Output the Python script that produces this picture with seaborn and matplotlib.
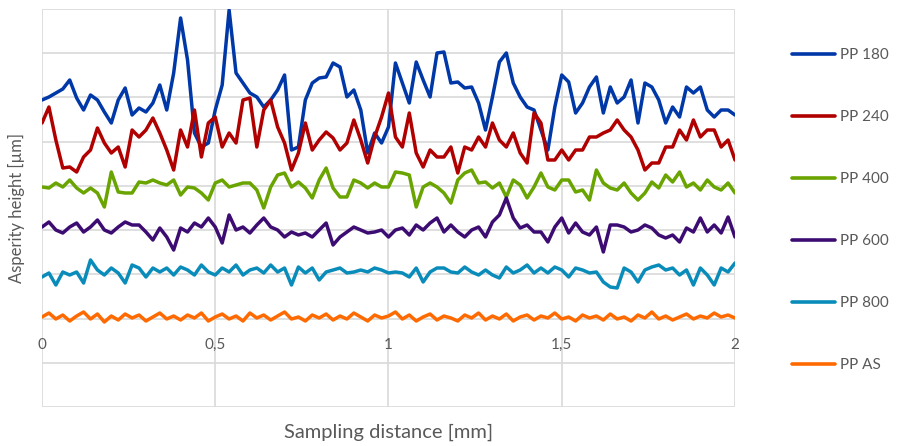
import numpy as np
import pandas as pd
import matplotlib
matplotlib.use("Agg")
import matplotlib.pyplot as plt
import seaborn as sns

# ---- data (asperity height readings, arbitrary µm units, sampled every 0.02 mm) ----
x_mm = [round(0.02 * k, 2) for k in range(101)]

pp180 = [307, 310, 314, 318, 327, 309, 297, 312, 307, 295,
         284, 307, 319, 292, 299, 295, 304, 322, 297, 334,
         389, 347, 274, 260, 264, 297, 322, 397, 334, 324,
         314, 310, 300, 307, 317, 332, 257, 260, 307, 324,
         329, 330, 344, 340, 310, 317, 297, 254, 274, 264,
         280, 344, 324, 304, 345, 327, 310, 354, 355, 324,
         325, 319, 320, 304, 277, 310, 345, 354, 324, 310,
         300, 297, 277, 257, 300, 332, 325, 294, 304, 320,
         330, 294, 320, 304, 310, 327, 284, 324, 320, 307,
         284, 300, 290, 320, 314, 320, 297, 290, 297, 297,
         292]

pp240 = [284, 300, 267, 239, 240, 235, 250, 257, 279, 264,
         254, 260, 240, 277, 270, 277, 289, 274, 257, 237,
         277, 260, 297, 250, 284, 290, 260, 274, 264, 307,
         309, 260, 297, 307, 280, 264, 237, 254, 284, 257,
         267, 275, 269, 257, 264, 287, 267, 244, 270, 290,
         314, 270, 260, 294, 254, 240, 257, 250, 250, 260,
         234, 260, 257, 270, 260, 284, 267, 260, 274, 254,
         244, 294, 284, 247, 247, 257, 247, 257, 257, 270,
         270, 274, 277, 287, 277, 270, 257, 237, 244, 244,
         260, 260, 277, 267, 287, 270, 277, 277, 260, 267,
         247]

pp400 = [220, 219, 224, 220, 227, 219, 214, 219, 214, 200,
         235, 215, 214, 214, 225, 224, 227, 224, 222, 227,
         212, 220, 219, 214, 207, 224, 227, 220, 222, 224,
         224, 217, 199, 220, 232, 234, 220, 225, 219, 209,
         227, 239, 219, 210, 210, 227, 224, 219, 224, 220,
         220, 235, 234, 232, 200, 220, 224, 220, 214, 204,
         227, 234, 237, 224, 225, 219, 224, 210, 227, 222,
         209, 220, 234, 220, 217, 227, 227, 215, 217, 207,
         237, 224, 219, 217, 224, 214, 207, 214, 225, 219,
         232, 225, 235, 220, 224, 217, 227, 220, 217, 224,
         214]

pp600 = [180, 185, 177, 174, 180, 184, 175, 180, 187, 177,
         174, 180, 185, 182, 182, 175, 167, 179, 170, 157,
         179, 175, 184, 180, 189, 180, 164, 192, 177, 180,
         174, 182, 189, 180, 177, 170, 175, 172, 174, 170,
         177, 184, 162, 170, 175, 180, 177, 174, 175, 177,
         170, 177, 179, 172, 182, 177, 184, 189, 175, 182,
         175, 170, 177, 180, 170, 185, 192, 209, 189, 179,
         182, 175, 175, 165, 180, 189, 174, 184, 175, 172,
         180, 155, 182, 182, 180, 175, 177, 182, 179, 172,
         169, 172, 165, 179, 175, 189, 175, 182, 174, 190,
         170]

pp800 = [130, 134, 122, 135, 132, 135, 124, 147, 137, 132,
         139, 134, 124, 142, 139, 130, 139, 135, 139, 132,
         140, 137, 132, 142, 135, 132, 139, 135, 142, 132,
         137, 139, 134, 142, 135, 139, 122, 140, 134, 139,
         127, 135, 137, 139, 134, 135, 137, 135, 139, 137,
         134, 135, 134, 130, 139, 125, 135, 139, 139, 135,
         134, 140, 135, 132, 137, 132, 129, 140, 134, 137,
         142, 134, 139, 134, 140, 137, 130, 139, 137, 134,
         135, 125, 120, 119, 139, 135, 125, 137, 140, 142,
         137, 139, 132, 137, 122, 139, 132, 122, 139, 135,
         144]

ppas = [90, 94, 88, 92, 86, 91, 95, 88, 93, 85,
        91, 87, 93, 89, 92, 86, 90, 94, 88, 91,
        87, 92, 89, 94, 86, 90, 93, 88, 91, 86,
        94, 89, 92, 87, 91, 95, 88, 90, 86, 92,
        89, 93, 87, 91, 88, 94, 90, 86, 92, 89,
        91, 95, 88, 92, 86, 90, 93, 87, 91, 89,
        86, 92, 89, 94, 87, 91, 88, 93, 86, 90,
        92, 87, 91, 89, 94, 88, 90, 86, 92, 89,
        91, 87, 93, 88, 90, 86, 92, 89, 95, 88,
        91, 87, 90, 93, 88, 91, 89, 94, 90, 92,
        89]

series_names = ["PP 180", "PP 240", "PP 400", "PP 600", "PP 800", "PP AS"]
series_values = [pp180, pp240, pp400, pp600, pp800, ppas]
colors = ["#0038A8", "#B00000", "#6AA400", "#3C0C72", "#0A8CBA", "#FF6A00"]

xtick_vals = [0, 0.5, 1, 1.5, 2]
xtick_labels = ["0", "0,5", "1", "1,5", "2"]

df = pd.concat(
    [pd.DataFrame({"x": x_mm, "h": v, "series": n}) for n, v in zip(series_names, series_values)],
    ignore_index=True,
)

# ---- figure ----
sns.set_theme(style="white")
plt.rcParams["font.family"] = ["Lato", "DejaVu Sans"]
text_color = "#595959"

fig = plt.figure(figsize=(8.98, 4.46), dpi=100)
ax = fig.add_axes([42 / 898, 1 - 407 / 446, (735 - 42) / 898, (407 - 9) / 446])

sns.lineplot(
    data=df, x="x", y="h", hue="series", hue_order=series_names,
    palette=colors, linewidth=2.5, estimator=None, sort=False, ax=ax,
)

ax.set_xlim(0, 2)
ax.set_ylim(0, 398)
ax.set_yticks(np.linspace(0, 398, 10))
ax.set_yticklabels([])
ax.set_xticks(xtick_vals)
ax.set_xticklabels(xtick_labels)
ax.tick_params(axis="x", length=0, pad=-50, labelsize=11, labelcolor=text_color)
ax.tick_params(axis="y", length=0)
ax.grid(True, color="#D9D9D9", linewidth=1.2)
ax.set_axisbelow(True)
for s in ax.spines.values():
    s.set_visible(False)

ax.set_xlabel("Sampling distance [mm]", fontsize=14.5, color=text_color)
ax.set_ylabel("Asperity height [µm]", fontsize=12, color=text_color)
ax.xaxis.set_label_coords(0.5, -0.042)
ax.yaxis.set_label_coords(-0.025, 0.5)

handles, labels = ax.get_legend_handles_labels()
ax.get_legend().remove()
for h in handles:
    h.set_linewidth(2.6)
leg = fig.legend(
    handles, labels, loc="upper left", bbox_to_anchor=(792 / 898, 1 - 48 / 446),
    frameon=False, fontsize=11, handlelength=2.8, handletextpad=0.35,
    labelspacing=3.14, borderpad=0, borderaxespad=0,
)
for t in leg.get_texts():
    t.set_color(text_color)

fig.savefig("out.png", dpi=100)
